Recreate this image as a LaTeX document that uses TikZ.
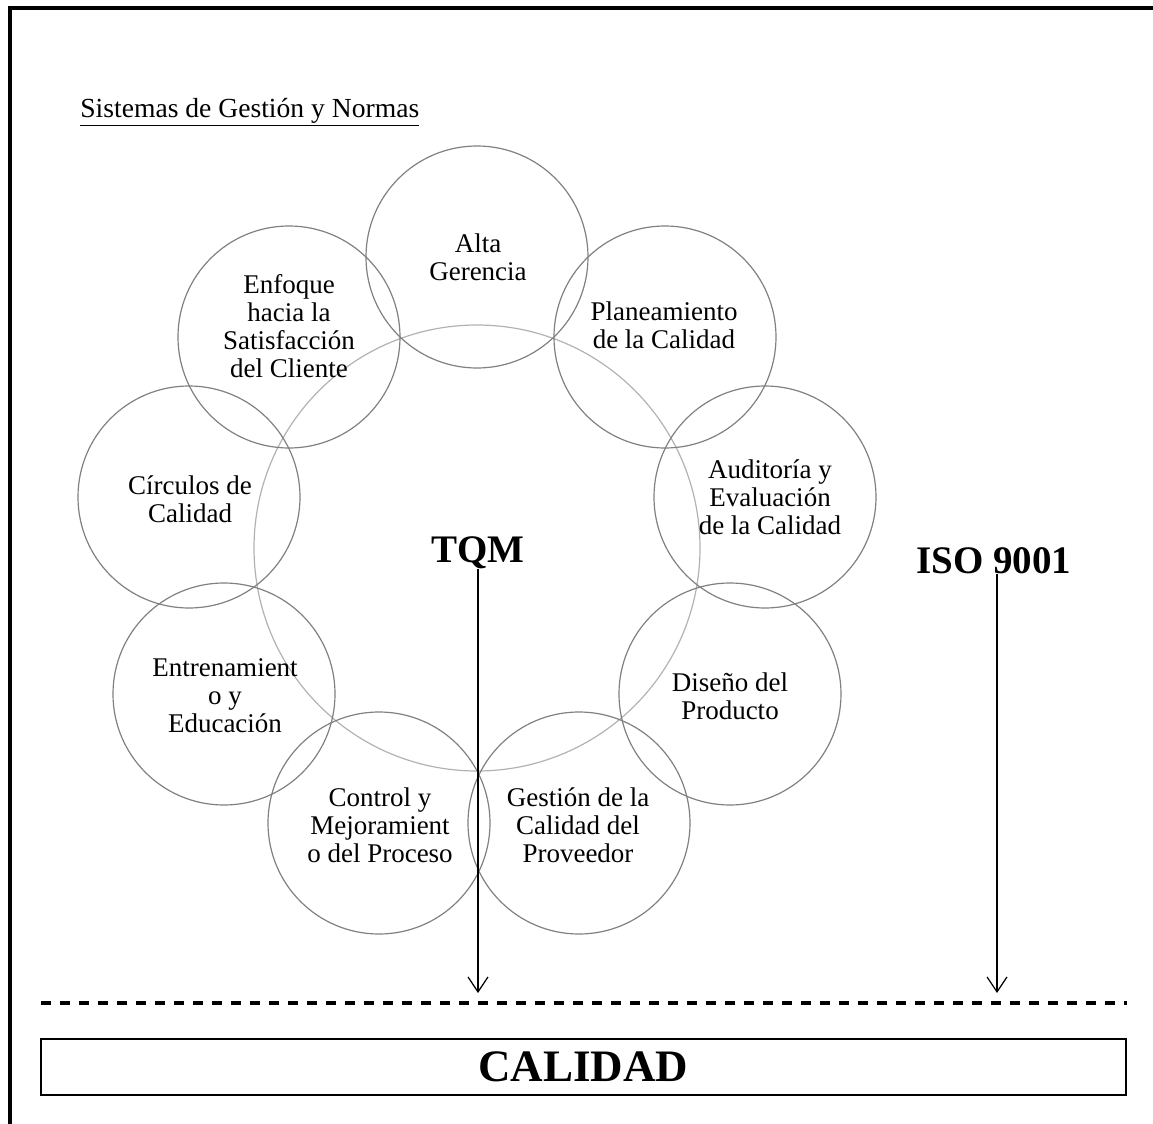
\documentclass[tikz,border=0pt]{standalone}
\usepackage{fontspec}
\setmainfont{Liberation Serif}
\usetikzlibrary{arrows.meta}
\begin{document}
\begin{tikzpicture}[x=0.5pt,y=-0.5pt,
  smallc/.style={circle,draw=black!50,line width=0.6pt,minimum size=111pt,inner sep=0pt},
  bigc/.style={circle,draw=black!30,line width=0.6pt,minimum size=223pt,inner sep=0pt},
  lbl/.style={align=center,inner sep=0pt,font=\fontsize{13.5}{14}\selectfont},
  big/.style={inner sep=0pt,font=\fontsize{19.5}{22}\selectfont\bfseries},
  arr/.style={line width=0.6pt,-{Straight Barb[length=7.5pt,width=10pt,line width=0.6pt]}}
]
\useasboundingbox (0,0) rectangle (1153,1124);
% page frame
\draw[line width=1.6pt] (10,1124) -- (10,8) -- (1153,8);
% title
\node[lbl,anchor=base west,font=\fontsize{13.8}{14}\selectfont] (title) at (80,117) {\underline{Sistemas de Gestión y Normas}};
% central circle
\node[bigc] (bigcirc) at (477,548) {};
% ring of circles
\node[smallc] (c1) at (477,257) {};
\node[smallc] (c2) at (665,337) {};
\node[smallc] (c3) at (765,497) {};
\node[smallc] (c4) at (730,694) {};
\node[smallc] (c5) at (579,823) {};
\node[smallc] (c6) at (379,823) {};
\node[smallc] (c7) at (224,694) {};
\node[smallc] (c8) at (189,497) {};
\node[smallc] (c9) at (289,337) {};
% labels
\node[lbl] (t1) at (478,257) {Alta\\Gerencia};
\node[lbl] (t2) at (664,325) {Planeamiento\\de la Calidad};
\node[lbl] (t3) at (770,497) {Auditoría y\\Evaluación\\de la Calidad};
\node[lbl] (t4) at (730,696) {Diseño del\\Producto};
\node[lbl] (t5) at (578,825) {Gestión de la\\Calidad del\\Proveedor};
\node[lbl] (t6) at (380,825) {Control y\\Mejoramient\\o del Proceso};
\node[lbl] (t7) at (225,696) {Entrenamient\\o y\\Educación};
\node[lbl] (t8) at (190,499) {Círculos de\\Calidad};
\node[lbl] (t9) at (289,326) {Enfoque\\hacia la\\Satisfacción\\del Cliente};
% systems
\node[big,anchor=base] (tqm) at (478,562) {TQM};
\node[big,anchor=base] (iso) at (994,573) {ISO 9001};
\coordinate (tqmend) at (478,993);
\coordinate (isoend) at (997,993);
\draw[arr] (tqm.south -| tqmend) -- (tqmend);
\draw[arr] (iso.south -| isoend) -- (isoend);
% dashed separator
\coordinate (dl) at (41,1003);
\coordinate (dr) at (1127,1003);
\draw[line width=1.6pt,dash pattern=on 5pt off 4.5pt] (dl) -- (dr);
% result box
\node[draw,line width=0.7pt,minimum width=542.5pt,minimum height=28pt,inner sep=0pt,
      font=\fontsize{22.5}{26}\selectfont\bfseries] (cal) at (583.5,1067) {CALIDAD};
\end{tikzpicture}
\end{document}
